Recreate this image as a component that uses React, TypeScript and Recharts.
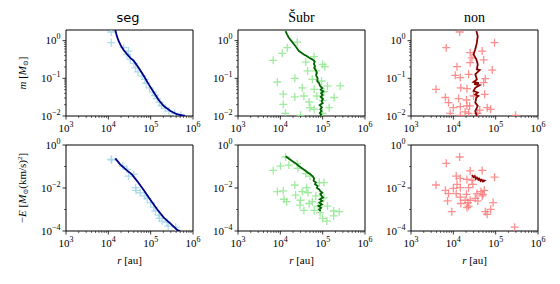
import React from "react";
import { ScatterChart, Scatter, XAxis, YAxis, ReferenceArea } from "recharts";

// r in au, value is mass (M_sun) or -E (M_sun (km/s)^2)
const rMajorTicks = [1e3, 1e4, 1e5, 1e6];
const massMajorTicks = [0.01, 0.1, 1];
const energyMajorTicks = [1e-4, 1e-2, 1];
const energyMinorTicks = [1e-3, 1e-1];

const segMassPoints = [
  [1.17e4, 1.7], [1.17e4, 0.885], [2.3e4, 0.65], [3.0e4, 0.53], [2.75e4, 0.43],
  [3.3e4, 0.32], [4.0e4, 0.25], [4.4e4, 0.19], [5.0e4, 0.148], [6.3e4, 0.115],
  [7.3e4, 0.094], [7.8e4, 0.074], [9.4e4, 0.056], [1.13e5, 0.043], [1.26e5, 0.035],
  [1.42e5, 0.029], [1.62e5, 0.023], [1.81e5, 0.019], [2.2e5, 0.016], [2.7e5, 0.0135],
  [3.7e5, 0.0117], [5.2e5, 0.0105],
];
const segMassLine = [
  [1.46e4, 1.92], [1.6e4, 1.3], [1.75e4, 0.98], [2.0e4, 0.72], [2.3e4, 0.565],
  [2.8e4, 0.43], [3.3e4, 0.35], [4.0e4, 0.29], [5.2e4, 0.19], [6.9e4, 0.115],
  [9.0e4, 0.069], [1.19e5, 0.042], [1.55e5, 0.0266], [2.04e5, 0.0184], [2.94e5, 0.0136],
  [4.27e5, 0.011], [6.5e5, 0.01],
];
const segEnergyPoints = [
  [1.17e4, 0.215], [1.2e4, 0.2], [2.2e4, 0.105], [2.75e4, 0.074], [3.0e4, 0.036],
  [4.0e4, 0.043], [4.4e4, 0.0104], [4.5e4, 0.0078], [5.7e4, 0.006], [7.3e4, 0.0043],
  [8.3e4, 0.0033], [1.0e5, 0.0021], [1.18e5, 0.0013], [1.29e5, 8.5e-4], [1.55e5, 5.5e-4],
  [1.62e5, 3.9e-4], [1.86e5, 2.9e-4], [2.45e5, 2.5e-4], [2.6e5, 1.7e-4], [3.9e5, 1.5e-4],
];
const segEnergyLine = [
  [1.46e4, 0.24], [1.9e4, 0.126], [2.75e4, 0.066], [3.6e4, 0.043], [4.8e4, 0.021],
  [6.9e4, 0.0078], [1.0e5, 0.0027], [1.42e5, 0.00102], [2.04e5, 4.2e-4], [2.94e5, 2.2e-4],
  [4.3e5, 1.1e-4], [5.0e5, 1e-4],
];

const subrMassPoints = [
  [2.5e4, 0.92], [1.46e4, 0.65], [1.11e4, 0.46], [6.8e3, 0.3], [4.0e4, 0.27],
  [6.3e4, 0.376], [1.0e5, 0.235], [1.12e5, 0.204], [4.4e4, 0.157], [6.9e4, 0.157],
  [2.2e4, 0.1], [8.5e3, 0.08], [5.7e4, 0.094], [9.4e4, 0.085], [1.3e5, 0.063],
  [2.6e5, 0.063], [3.3e4, 0.056], [6.3e4, 0.051], [1.17e4, 0.038], [1.07e5, 0.044],
  [3.6e4, 0.034], [2.2e4, 0.032], [7.3e4, 0.034], [1.86e5, 0.031], [4.8e4, 0.0235],
  [1.0e5, 0.026], [1.17e4, 0.0204], [5.0e4, 0.0166], [6.3e4, 0.0151], [1.42e5, 0.0166],
  [1.32e4, 0.0118], [3.0e4, 0.0104], [1.0e5, 0.0118],
];
const subrMassLine = [
  [1.33e4, 1.8], [1.45e4, 1.45], [1.59e4, 1.2], [1.8e4, 1.0], [2.1e4, 0.8],
  [2.4e4, 0.66], [2.75e4, 0.53], [3.2e4, 0.47], [3.6e4, 0.43], [4.2e4, 0.39],
  [4.8e4, 0.35], [5.7e4, 0.32], [6.5e4, 0.28], [6.2e4, 0.24], [6.6e4, 0.21],
  [6.3e4, 0.19], [7.0e4, 0.16], [7.3e4, 0.14], [7.0e4, 0.12], [7.6e4, 0.1],
  [7.4e4, 0.085], [8.2e4, 0.075], [8.7e4, 0.063], [9.8e4, 0.055], [9.0e4, 0.05],
  [1.03e5, 0.045], [9.2e4, 0.04], [1.0e5, 0.036], [9.0e4, 0.032], [1.02e5, 0.028],
  [9.4e4, 0.025], [1.0e5, 0.022], [8.5e4, 0.0195], [9.6e4, 0.017], [8.8e4, 0.015],
  [9.4e4, 0.0135], [8.6e4, 0.012], [9.2e4, 0.011], [8.7e4, 0.01],
];
const subrEnergyPoints = [
  [1.33e4, 0.277], [1.01e4, 0.105], [1.59e4, 0.117], [6.8e3, 0.066], [2.5e4, 0.135],
  [2.6e4, 0.082], [4.0e4, 0.047], [5.0e4, 0.036], [8.3e4, 0.0178], [1.07e5, 0.0178],
  [2.2e4, 0.0138], [4.2e4, 0.0104], [3.3e4, 0.0068], [8.5e3, 0.0068], [1.17e4, 0.0073],
  [4.5e4, 0.006], [2.3e4, 0.0047], [6.9e4, 0.0043], [1.07e5, 0.0035], [1.22e4, 0.003],
  [1.41e4, 0.0023], [3.0e4, 0.0027], [5.7e4, 0.0023], [4.8e4, 0.0019], [2.9e4, 0.0016],
  [7.8e4, 0.00145], [1.3e5, 0.00145], [3.6e4, 9.1e-4], [6.3e4, 9.1e-4], [1.82e5, 8.5e-4],
  [2.45e5, 7.9e-4], [8.7e4, 7.1e-4], [1.82e5, 5e-4], [1.0e5, 3.9e-4], [1.26e5, 2.9e-4],
];
const subrEnergyLine = [
  [1.33e4, 0.3], [1.6e4, 0.23], [1.9e4, 0.18], [2.3e4, 0.14], [2.75e4, 0.105],
  [3.3e4, 0.08], [4.0e4, 0.062], [4.6e4, 0.05], [5.2e4, 0.043], [5.8e4, 0.035],
  [6.3e4, 0.028], [6.1e4, 0.022], [6.9e4, 0.018], [6.6e4, 0.015], [7.6e4, 0.0124],
  [7.3e4, 0.01], [8.3e4, 0.0085], [8.7e4, 0.0073], [9.8e4, 0.006], [8.8e4, 0.0052],
  [9.4e4, 0.0043], [1.02e5, 0.0036], [8.6e4, 0.003], [9.8e4, 0.0025], [8.4e4, 0.0021],
  [9.6e4, 0.0017], [8.0e4, 0.00145], [9.2e4, 0.0012], [8.3e4, 0.001], [9.0e4, 0.00085],
];

const nonMassPoints = [
  [1.41e4, 1.7], [9.4e4, 0.885], [6.8e3, 0.65], [2.5e4, 0.48], [4.8e4, 0.53],
  [2.75e4, 0.35], [5.2e4, 0.31], [2.5e4, 0.26], [1.22e4, 0.204], [8.3e4, 0.166],
  [1.11e4, 0.12], [2.3e4, 0.128], [1.46e4, 0.105], [5.7e4, 0.098], [5.2e4, 0.077],
  [3.9e3, 0.051], [1.5e4, 0.056], [2.1e4, 0.053], [6.5e3, 0.031], [1.33e4, 0.029],
  [7.7e3, 0.0226], [2.05e4, 0.0266], [3.0e4, 0.034], [5.5e4, 0.0376], [2.43e4, 0.0185],
  [1.0e4, 0.0166], [1.46e4, 0.0178], [2.1e4, 0.0185], [6.3e4, 0.0166], [7.6e4, 0.015],
  [8.4e3, 0.0118], [1.9e4, 0.0128], [2.3e4, 0.0118], [1.46e4, 0.0104], [3.77e4, 0.0118],
  [2.95e5, 0.0104], [4.2e4, 0.0144],
];
const nonMassLine = [
  [3.5e4, 1.8], [3.77e4, 1.33], [3.6e4, 0.885], [3.3e4, 0.59], [3.0e4, 0.43],
  [3.5e4, 0.32], [3.77e4, 0.235], [3.6e4, 0.174], [4.2e4, 0.166], [3.3e4, 0.128],
  [3.6e4, 0.094], [3.0e4, 0.08], [4.0e4, 0.075], [3.1e4, 0.07], [4.2e4, 0.066],
  [3.3e4, 0.056], [3.0e4, 0.046], [3.77e4, 0.042], [3.3e4, 0.037], [3.9e4, 0.034],
  [3.5e4, 0.031], [3.3e4, 0.0226], [3.77e4, 0.0185], [3.3e4, 0.0135], [3.6e4, 0.01],
];
const nonEnergyPoints = [
  [1.41e4, 0.277], [6.8e3, 0.14], [2.5e4, 0.062], [4.8e4, 0.066], [9.4e4, 0.032],
  [1.17e4, 0.036], [1.46e4, 0.028], [2.1e4, 0.025], [2.75e4, 0.023], [3.9e3, 0.0138],
  [1.0e4, 0.0096], [6.5e3, 0.0078], [1.46e4, 0.0104], [2.3e4, 0.0104], [5.4e4, 0.0078],
  [4.5e4, 0.0068], [7.7e3, 0.0055], [1.17e4, 0.0055], [2.05e4, 0.0051], [3.6e4, 0.0055],
  [3.3e4, 0.0033], [4.8e4, 0.0043], [1.46e4, 0.0038], [7.3e3, 0.0025], [1.9e4, 0.0027],
  [2.5e4, 0.0027], [3.77e4, 0.0025], [1.5e4, 0.0019], [2.2e4, 0.0021], [8.7e4, 0.0021],
  [7.6e4, 0.00102], [2.1e4, 0.00123], [2.3e4, 0.00145], [9.2e3, 7.9e-4], [5.7e4, 7.9e-4],
  [6.3e4, 6e-4], [2.8e5, 1.5e-4], [5.0e4, 0.0051], [2.9e4, 0.0148], [1.22e4, 0.0148],
];
const nonEnergyLine = [
  [2.75e4, 0.04], [3.0e4, 0.032], [3.2e4, 0.036], [3.4e4, 0.027], [3.6e4, 0.031],
  [3.9e4, 0.024], [4.1e4, 0.027], [4.4e4, 0.021], [4.7e4, 0.024], [5.0e4, 0.02],
  [5.4e4, 0.022], [4.8e4, 0.023], [4.2e4, 0.025], [3.8e4, 0.028], [3.4e4, 0.03],
];

const SERIF = "'Liberation Serif', 'DejaVu Serif', serif";

function minorsFor(majors: number[]) {
  const out: number[] = [];
  for (let i = 0; i < majors.length - 1; i++) {
    for (let k = 2; k <= 9; k++) out.push(majors[i] * k);
  }
  return out;
}

const rTicks = [...rMajorTicks, ...minorsFor(rMajorTicks)];
const massTicks = [...massMajorTicks, ...minorsFor(massMajorTicks)];
const energyTicks = [...energyMajorTicks, ...energyMinorTicks];

const toRows = (arr: number[][]) => arr.map(([r, v]) => ({ r, v }));

function expLabel(v: number) {
  const e = Math.round(Math.log10(v));
  return e < 0 ? "\u2212" + Math.abs(e) : String(e);
}

function XTick(props: any) {
  const { x, y, payload } = props;
  const v = payload.value;
  const major = rMajorTicks.includes(v);
  return (
    <g>
      <line x1={x} x2={x} y1={y} y2={y + (major ? 3.5 : 2)} stroke="#000" strokeWidth={major ? 0.8 : 0.6} />
      {major && (
        <text x={x} y={y + 15.5} textAnchor="middle" fontFamily={SERIF} fontSize={11} fill="#000">
          10<tspan dy={-5} fontSize={8}>{expLabel(v)}</tspan>
        </text>
      )}
    </g>
  );
}

function YTick(props: any) {
  const { x, y, payload, majors } = props;
  const v = payload.value;
  const major = majors.includes(v);
  return (
    <g>
      <line x1={x} x2={x - (major ? 3.5 : 2)} y1={y} y2={y} stroke="#000" strokeWidth={major ? 0.8 : 0.6} />
      {major && (
        <text x={x - 5.5} y={y + 3.5} textAnchor="end" fontFamily={SERIF} fontSize={11} fill="#000">
          10<tspan dy={-5} fontSize={8}>{expLabel(v)}</tspan>
        </text>
      )}
    </g>
  );
}

const plusShape = (color: string) => (props: any) => {
  const { cx, cy } = props;
  if (cx == null || cy == null) return <g />;
  return (
    <path
      d={`M${cx - 4},${cy}H${cx + 4}M${cx},${cy - 4}V${cy + 4}`}
      stroke={color}
      strokeWidth={1.3}
      fill="none"
      opacity={0.85}
    />
  );
};

const PLOT_W = 127;
const PLOT_H = 86;
const Y_AXIS_W = 45;
const X_AXIS_H = 25;
const TOP_PAD = 12;
const RIGHT_PAD = 16;

function Panel({
  left,
  top,
  points,
  line,
  yDomain,
  yTicks,
  yMajors,
  pointColor,
  lineColor,
}: {
  left: number;
  top: number;
  points: number[][];
  line: number[][];
  yDomain: [number, number];
  yTicks: number[];
  yMajors: number[];
  pointColor: string;
  lineColor: string;
}) {
  return (
    <div style={{ position: "absolute", left: left - Y_AXIS_W, top: top - TOP_PAD }}>
      <ScatterChart
        width={Y_AXIS_W + PLOT_W + RIGHT_PAD}
        height={TOP_PAD + PLOT_H + X_AXIS_H}
        margin={{ top: TOP_PAD, right: RIGHT_PAD, left: 0, bottom: 0 }}
      >
        <XAxis
          dataKey="r"
          type="number"
          scale="log"
          domain={[1e3, 1e6]}
          allowDataOverflow
          ticks={rTicks}
          interval={0}
          tickSize={0}
          tickMargin={0}
          tickLine={false}
          axisLine={false}
          height={X_AXIS_H}
          tick={(p: any) => <XTick {...p} />}
        />
        <YAxis
          dataKey="v"
          type="number"
          scale="log"
          domain={yDomain}
          allowDataOverflow
          ticks={yTicks}
          interval={0}
          tickSize={0}
          tickMargin={0}
          tickLine={false}
          axisLine={false}
          width={Y_AXIS_W}
          tick={(p: any) => <YTick {...p} majors={yMajors} />}
        />
        <Scatter data={toRows(points)} shape={plusShape(pointColor)} isAnimationActive={false} />
        <Scatter
          data={toRows(line)}
          line={{ stroke: lineColor, strokeWidth: 1.8 }}
          shape={() => <g />}
          isAnimationActive={false}
        />
        <ReferenceArea
          x1={1e3}
          x2={1e6}
          y1={yDomain[0]}
          y2={yDomain[1]}
          fill="none"
          stroke="#000"
          strokeWidth={1}
          ifOverflow="visible"
        />
      </ScatterChart>
    </div>
  );
}

const COLS = [66, 238, 411];
const ROWS = [30, 145];
const MASS_DOMAIN: [number, number] = [0.01, 1.92];
const ENERGY_DOMAIN: [number, number] = [1e-4, 1];

const SEG_PT = "#a3d6e8";
const SEG_LN = "#00008b";
const SUBR_PT = "#8fe88f";
const SUBR_LN = "#006400";
const NON_PT = "#fb7b7b";
const NON_LN = "#8b0000";

export default function App() {
  const massProps = { yDomain: MASS_DOMAIN, yTicks: massTicks, yMajors: massMajorTicks };
  const energyProps = { yDomain: ENERGY_DOMAIN, yTicks: energyTicks, yMajors: energyMajorTicks };
  return (
    <div style={{ position: "absolute", left: 0, top: 0, width: 560, height: 284, background: "#fff", overflow: "hidden" }}>
      <Panel left={COLS[0]} top={ROWS[0]} points={segMassPoints} line={segMassLine} pointColor={SEG_PT} lineColor={SEG_LN} {...massProps} />
      <Panel left={COLS[1]} top={ROWS[0]} points={subrMassPoints} line={subrMassLine} pointColor={SUBR_PT} lineColor={SUBR_LN} {...massProps} />
      <Panel left={COLS[2]} top={ROWS[0]} points={nonMassPoints} line={nonMassLine} pointColor={NON_PT} lineColor={NON_LN} {...massProps} />
      <Panel left={COLS[0]} top={ROWS[1]} points={segEnergyPoints} line={segEnergyLine} pointColor={SEG_PT} lineColor={SEG_LN} {...energyProps} />
      <Panel left={COLS[1]} top={ROWS[1]} points={subrEnergyPoints} line={subrEnergyLine} pointColor={SUBR_PT} lineColor={SUBR_LN} {...energyProps} />
      <Panel left={COLS[2]} top={ROWS[1]} points={nonEnergyPoints} line={nonEnergyLine} pointColor={NON_PT} lineColor={NON_LN} {...energyProps} />

      <svg width={560} height={284} style={{ position: "absolute", left: 0, top: 0, pointerEvents: "none" }}>
        <text x={128} y={22} textAnchor="middle" fontFamily="'DejaVu Sans', sans-serif" fontSize={13}>seg</text>
        <text x={301.5} y={22} textAnchor="middle" fontFamily={SERIF} fontSize={14}>Šubr</text>
        <text x={474.5} y={22} textAnchor="middle" fontFamily={SERIF} fontSize={14}>non</text>

        <text transform="translate(26,73) rotate(-90)" textAnchor="middle" fontFamily={SERIF} fontSize={11}>
          <tspan fontStyle="italic">m</tspan> [<tspan fontStyle="italic">M</tspan>
          <tspan fontSize={7} dy={2}>⊙</tspan>
          <tspan dy={-2}>]</tspan>
        </text>
        <text transform="translate(26,188) rotate(-90)" textAnchor="middle" fontFamily={SERIF} fontSize={11}>
          −<tspan fontStyle="italic">E</tspan> [<tspan fontStyle="italic">M</tspan>
          <tspan fontSize={7} dy={2}>⊙</tspan>
          <tspan dy={-2}>(km/s)</tspan>
          <tspan fontSize={7} dy={-4}>2</tspan>
          <tspan dy={4}>]</tspan>
        </text>

        {COLS.map((c) => (
          <text key={c} x={c + PLOT_W / 2} y={264} textAnchor="middle" fontFamily={SERIF} fontSize={11}>
            <tspan fontStyle="italic">r</tspan> [au]
          </text>
        ))}
      </svg>
    </div>
  );
}
